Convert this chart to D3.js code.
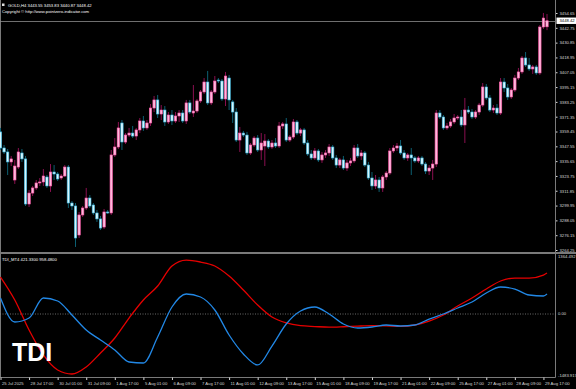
<!DOCTYPE html>
<html>
<head>
<meta charset="utf-8">
<script src="https://cdnjs.cloudflare.com/ajax/libs/d3/7.8.5/d3.min.js"></script>
<style>
  html, body { margin: 0; padding: 0; background: #000; overflow: hidden; }
  svg { display: block; }
  text { font-family: "Liberation Sans", Arial, sans-serif; }
</style>
</head>
<body>
<script>
// header texts
const symbolInfo = 'GOLD,H4  3443.55 3453.83 3440.87 3448.42';
const copyrightInfo = 'Copyright © http://www.pointzero-indicator.com';
const tdiInfo = 'TDI_MT4 421.3300 958.4800';
const bidPrice = 3448.42;

// H4 candles, [open, high, low, close]
const candles = [
  [3359.1, 3362.3, 3344.6, 3346.2], [3346.2, 3348.6, 3341.4, 3343.0], [3343.0, 3345.4, 3324.5, 3335.0], [3335.0, 3339.8, 3331.7, 3337.4],
  [3320.5, 3336.6, 3317.3, 3331.7], [3330.9, 3346.2, 3329.3, 3343.0], [3342.2, 3345.4, 3335.0, 3337.4], [3337.4, 3339.8, 3299.6, 3301.2],
  [3301.2, 3312.5, 3298.8, 3310.0], [3310.0, 3315.7, 3307.6, 3314.1], [3314.1, 3320.5, 3312.5, 3318.1], [3318.1, 3322.1, 3315.7, 3318.9],
  [3318.9, 3329.3, 3315.7, 3323.7], [3322.9, 3324.5, 3314.1, 3315.7], [3315.7, 3333.3, 3310.9, 3326.9], [3326.9, 3332.5, 3320.5, 3325.3],
  [3325.3, 3326.9, 3319.7, 3321.3], [3322.1, 3325.3, 3320.5, 3323.7], [3323.7, 3332.5, 3322.9, 3330.9], [3330.9, 3332.5, 3298.0, 3302.0],
  [3302.0, 3303.6, 3296.4, 3299.6], [3299.6, 3302.0, 3266.7, 3273.9], [3276.3, 3294.8, 3273.9, 3292.4], [3292.4, 3299.6, 3290.8, 3298.0],
  [3298.0, 3314.1, 3296.4, 3306.0], [3306.0, 3308.4, 3298.0, 3299.6], [3300.4, 3302.0, 3292.4, 3294.0], [3294.0, 3296.4, 3286.8, 3289.2],
  [3289.2, 3291.6, 3280.3, 3281.9], [3282.7, 3297.2, 3281.1, 3294.8], [3294.8, 3296.4, 3293.2, 3294.0], [3294.0, 3344.6, 3292.4, 3340.6],
  [3340.6, 3354.2, 3339.0, 3347.0], [3347.0, 3367.1, 3345.4, 3362.3], [3366.3, 3368.7, 3344.6, 3351.0], [3351.0, 3358.2, 3349.4, 3356.6],
  [3356.6, 3362.3, 3355.0, 3358.2], [3358.2, 3363.9, 3354.2, 3355.8], [3355.8, 3362.3, 3352.6, 3360.7], [3360.7, 3370.3, 3358.2, 3367.9],
  [3367.9, 3371.9, 3359.9, 3362.3], [3362.3, 3368.7, 3360.7, 3366.3], [3366.3, 3381.5, 3363.9, 3378.3], [3378.3, 3388.0, 3375.1, 3384.8],
  [3384.8, 3388.8, 3370.3, 3373.5], [3373.5, 3380.7, 3368.7, 3376.7], [3376.7, 3379.9, 3363.9, 3367.1], [3367.1, 3375.1, 3365.5, 3372.7],
  [3372.7, 3376.7, 3364.7, 3367.9], [3367.9, 3375.1, 3366.3, 3371.9], [3371.9, 3376.7, 3367.1, 3374.3], [3374.3, 3376.7, 3366.3, 3367.9],
  [3367.9, 3384.8, 3365.5, 3382.4], [3382.4, 3384.8, 3373.5, 3375.1], [3374.3, 3396.8, 3371.1, 3375.9], [3375.9, 3385.6, 3374.3, 3384.0],
  [3384.0, 3392.8, 3382.4, 3391.2], [3391.2, 3402.4, 3389.6, 3399.2], [3399.2, 3408.1, 3380.7, 3382.4], [3382.4, 3392.8, 3380.7, 3391.2],
  [3391.2, 3404.0, 3389.6, 3400.0], [3400.8, 3402.4, 3398.4, 3400.0], [3400.0, 3401.6, 3384.0, 3385.6], [3385.6, 3407.3, 3379.9, 3404.0],
  [3402.4, 3404.9, 3376.7, 3384.8], [3383.2, 3384.8, 3366.3, 3375.1], [3375.1, 3378.3, 3351.0, 3352.6], [3352.6, 3363.1, 3343.0, 3358.2],
  [3358.2, 3359.9, 3355.0, 3356.6], [3356.6, 3359.1, 3340.6, 3342.2], [3342.2, 3350.2, 3340.6, 3348.6], [3348.6, 3355.8, 3347.0, 3354.2],
  [3354.2, 3356.6, 3343.0, 3344.6], [3344.6, 3358.2, 3336.6, 3350.2], [3347.8, 3357.4, 3331.7, 3351.8], [3351.8, 3353.4, 3345.4, 3347.0],
  [3347.0, 3352.6, 3345.4, 3350.2], [3350.2, 3354.2, 3346.2, 3347.8], [3347.8, 3367.1, 3346.2, 3363.9], [3363.9, 3367.1, 3361.5, 3365.5],
  [3365.5, 3370.3, 3351.0, 3352.6], [3352.6, 3356.6, 3351.0, 3355.0], [3355.0, 3369.5, 3353.4, 3367.1], [3367.1, 3368.7, 3356.6, 3358.2],
  [3358.2, 3362.3, 3355.8, 3360.7], [3360.7, 3362.3, 3348.6, 3350.2], [3350.2, 3352.6, 3339.8, 3341.4], [3341.4, 3344.6, 3336.6, 3338.2],
  [3338.2, 3346.2, 3336.6, 3343.8], [3343.8, 3345.4, 3335.0, 3336.6], [3336.6, 3343.0, 3334.2, 3340.6], [3340.6, 3344.6, 3338.2, 3342.2],
  [3342.2, 3349.4, 3339.8, 3347.0], [3347.0, 3348.6, 3336.6, 3338.2], [3338.2, 3340.6, 3330.1, 3332.5], [3332.5, 3338.2, 3330.1, 3336.6],
  [3336.6, 3339.8, 3328.5, 3330.1], [3330.1, 3336.6, 3327.7, 3334.2], [3334.2, 3338.2, 3331.7, 3335.8], [3335.8, 3348.6, 3334.2, 3346.2],
  [3346.2, 3349.4, 3338.2, 3339.8], [3339.8, 3344.6, 3336.6, 3342.2], [3342.2, 3343.8, 3330.9, 3332.5], [3332.5, 3335.0, 3320.5, 3322.1],
  [3322.1, 3326.9, 3312.5, 3315.7], [3315.7, 3324.5, 3313.3, 3320.5], [3320.5, 3322.9, 3310.9, 3314.1], [3314.1, 3324.5, 3310.9, 3322.9],
  [3322.9, 3327.7, 3320.5, 3326.1], [3326.1, 3346.2, 3324.5, 3343.8], [3343.8, 3348.6, 3342.2, 3346.2], [3346.2, 3350.2, 3343.8, 3347.8],
  [3347.8, 3352.6, 3340.6, 3342.2], [3342.2, 3344.6, 3336.6, 3338.2], [3338.2, 3342.2, 3335.8, 3340.6], [3340.6, 3346.2, 3324.5, 3338.2],
  [3338.2, 3339.8, 3334.2, 3335.8], [3335.8, 3339.8, 3334.2, 3338.2], [3338.2, 3339.8, 3331.7, 3333.3], [3333.3, 3334.9, 3325.3, 3327.7],
  [3327.7, 3332.5, 3324.5, 3330.1], [3330.1, 3336.6, 3320.5, 3333.3], [3333.3, 3376.7, 3330.9, 3374.3], [3374.3, 3376.7, 3369.5, 3371.1],
  [3371.1, 3372.7, 3360.7, 3362.3], [3362.3, 3366.3, 3360.7, 3363.9], [3363.9, 3369.5, 3362.3, 3367.1], [3367.1, 3373.5, 3365.5, 3370.3],
  [3370.3, 3372.7, 3368.7, 3371.1], [3371.1, 3376.7, 3363.1, 3364.7], [3364.7, 3386.4, 3350.2, 3376.7], [3376.7, 3379.9, 3373.5, 3375.1],
  [3375.1, 3377.5, 3369.5, 3371.1], [3371.1, 3376.7, 3369.5, 3375.1], [3375.1, 3382.4, 3372.7, 3380.7], [3380.7, 3398.4, 3379.1, 3395.2],
  [3395.2, 3397.6, 3384.8, 3386.4], [3386.4, 3388.8, 3375.1, 3376.7], [3376.7, 3380.7, 3374.3, 3378.3], [3378.3, 3381.5, 3372.7, 3374.3],
  [3374.3, 3402.4, 3372.7, 3399.2], [3399.2, 3402.4, 3391.2, 3394.4], [3394.4, 3397.6, 3384.8, 3387.2], [3387.2, 3394.4, 3385.6, 3392.8],
  [3392.8, 3404.9, 3391.2, 3402.4], [3402.4, 3410.5, 3400.8, 3407.3], [3407.3, 3420.1, 3405.7, 3418.5], [3418.5, 3423.3, 3411.3, 3412.9],
  [3412.9, 3418.5, 3408.1, 3409.7], [3409.7, 3412.9, 3405.7, 3411.3], [3411.3, 3412.9, 3404.9, 3406.5], [3406.5, 3445.0, 3404.9, 3443.4],
  [3443.4, 3454.7, 3441.8, 3450.6], [3443.55, 3453.83, 3440.87, 3448.42]
];

// price scale labels
const priceTicks = [3264.25, 3276.15, 3288.05, 3299.95, 3311.85, 3323.75, 3335.65, 3347.55, 3359.45,
  3371.35, 3383.25, 3395.15, 3407.05, 3418.95, 3430.85, 3442.75, 3454.65];

// time labels, one every 8 bars
const timeBars = [0, 8, 16, 24, 32, 40, 48, 56, 64, 72, 80, 88, 96, 104, 112, 120, 128, 136, 144, 152];
const timeLabels = ['25 Jul 2025', '28 Jul 17:00', '30 Jul 01:00', '31 Jul 09:00', '1 Aug 17:00', '5 Aug 01:00',
  '6 Aug 09:00', '7 Aug 17:00', '11 Aug 01:00', '12 Aug 09:00', '13 Aug 17:00', '15 Aug 01:00', '18 Aug 09:00',
  '19 Aug 17:00', '21 Aug 01:00', '22 Aug 09:00', '25 Aug 17:00', '27 Aug 01:00', '28 Aug 09:00', '29 Aug 17:00'];

// TDI lines, read every 4 bars
const tdiBars = [0, 4, 8, 12, 16, 20, 24, 28, 32, 36, 40, 44, 48, 52, 56, 60, 64, 68, 72, 76,
  80, 84, 88, 92, 96, 100, 104, 108, 112, 116, 120, 124, 128, 132, 136, 140, 144, 148, 152, 153];
const tdiRed = [885, 335, -383, -981, -1340, -1436, -1268, -933, -574, -96, 335, 670, 1149, 1292, 1244, 1149,
  909, 574, 215, -72, -215, -280, -300, -315, -305, -290, -280, -285, -295, -263, -168, -24, 191,
  383, 598, 790, 861, 861, 933, 981];
const tdiBlue = [383, -191, -96, 383, 311, -24, -383, -622, -861, -1149, -1173, -550, 168, 479, 407, 96,
  -503, -957, -1220, -766, -239, 72, 168, 0, -239, -335, -311, -263, -287, -263, -120, 0, 144, 287,
  503, 646, 598, 455, 431, 479];
const tdiMax = 1364.492, tdiMin = -1483.917;

const W = 576, H = 389;
const axisX = 555.5;
const grey = '#7a7a7a', labelColor = '#d8d8d8';

const svg = d3.select('body')
  .append('svg')
  .attr('width', W)
  .attr('height', H);

svg.append('rect').attr('width', W).attr('height', H).attr('fill', '#000');

// scales
const x = d3.scaleLinear().domain([0, 153]).range([0.5, 547]);
const y = d3.scaleLinear().domain([3264.25, 3454.65]).range([250, 13]);
const yTdi = d3.scaleLinear().domain([tdiMin, tdiMax]).range([376, 257]);

// frame
svg.append('line').attr('x1', 0.5).attr('x2', 0.5).attr('y1', 0).attr('y2', 377.5).attr('stroke', grey);
svg.append('rect').attr('x', 0).attr('y', 252).attr('width', W).attr('height', 2).attr('fill', grey);

// bid line
svg.append('line')
  .attr('x1', 0).attr('x2', axisX)
  .attr('y1', Math.round(y(bidPrice)) + 0.5).attr('y2', Math.round(y(bidPrice)) + 0.5)
  .attr('stroke', '#8c8c8c').attr('stroke-width', 0.8);

// candles
const bull = (d) => d[3] >= d[0];
const candle = svg.append('g').selectAll('g')
  .data(candles)
  .enter()
  .append('g');

candle.append('line')
  .attr('x1', (d, i) => x(i)).attr('x2', (d, i) => x(i))
  .attr('y1', (d) => y(d[1])).attr('y2', (d) => y(d[2]))
  .attr('stroke', (d) => bull(d) ? '#8a0f50' : '#0c5f72')
  .attr('stroke-width', 1);

candle.append('rect')
  .attr('x', (d, i) => x(i) - 1.2)
  .attr('width', 2.4)
  .attr('y', (d) => y(Math.max(d[0], d[3])))
  .attr('height', (d) => Math.max(1, Math.abs(y(d[0]) - y(d[3]))))
  .attr('fill', (d) => bull(d) ? '#ffb8dc' : '#d6f7ff')
  .attr('stroke', (d) => bull(d) ? '#ff5aaa' : '#3cb8e0')
  .attr('stroke-width', 0.6);

// price axis
const priceAxis = svg.append('g')
  .attr('transform', `translate(${axisX},0)`)
  .call(d3.axisRight(y).tickValues(priceTicks).tickSize(2).tickPadding(2).tickFormat(d3.format('.2f')));
priceAxis.select('.domain').remove();
priceAxis.selectAll('line').attr('stroke', labelColor);
priceAxis.selectAll('text').attr('fill', labelColor).attr('font-size', 4.2);

svg.append('line').attr('x1', axisX).attr('x2', axisX).attr('y1', 0).attr('y2', 377.5).attr('stroke', grey);

// bid label
svg.append('rect')
  .attr('x', axisX + 1).attr('y', y(bidPrice) - 3.2)
  .attr('width', W - axisX - 1).attr('height', 6.4)
  .attr('fill', '#fff');
svg.append('text')
  .attr('x', axisX + 4).attr('y', y(bidPrice))
  .attr('dy', '0.35em')
  .attr('font-size', 4.2)
  .attr('fill', '#000')
  .text(bidPrice.toFixed(2));

// header
svg.append('rect').attr('x', 2).attr('y', 3.5).attr('width', 2.5).attr('height', 2.5).attr('fill', '#ddd');
svg.append('text').attr('x', 8).attr('y', 6.5).attr('font-size', 4.2).attr('fill', '#fff').text(symbolInfo);
svg.append('text').attr('x', 2).attr('y', 12.5).attr('font-size', 4.2).attr('fill', '#fff').text(copyrightInfo);

// indicator pane
svg.append('text').attr('x', 2).attr('y', 261).attr('font-size', 4.2).attr('fill', '#fff').text(tdiInfo);

svg.append('line')
  .attr('x1', 0).attr('x2', axisX)
  .attr('y1', yTdi(0)).attr('y2', yTdi(0))
  .attr('stroke', '#9a9a9a').attr('stroke-width', 0.7)
  .attr('stroke-dasharray', '1,1.5');

const tdiScaleLabels = [tdiMax, 0, tdiMin];
svg.selectAll('.tdiLabel')
  .data(tdiScaleLabels)
  .enter()
  .append('text')
  .attr('class', 'tdiLabel')
  .attr('x', axisX + 2.5)
  .attr('y', (d) => yTdi(d))
  .attr('dy', '0.35em')
  .attr('font-size', 4.2)
  .attr('fill', labelColor)
  .text((d) => d === 0 ? '0.00' : d.toFixed(3));

const tdiLine = (values) => d3.line()
  .x((d, i) => x(tdiBars[i]))
  .y((d) => yTdi(d))
  .curve(d3.curveMonotoneX)(values);

svg.append('path').attr('d', tdiLine(tdiRed)).attr('fill', 'none').attr('stroke', '#e60000').attr('stroke-width', 1.3);
svg.append('path').attr('d', tdiLine(tdiBlue)).attr('fill', 'none').attr('stroke', '#2288e6').attr('stroke-width', 1.3);

svg.append('text')
  .attr('x', 12).attr('y', 361)
  .attr('font-size', 25)
  .attr('font-weight', 'bold')
  .attr('fill', '#fff')
  .text('TDI');

// time axis
const timeAxis = svg.append('g')
  .attr('transform', 'translate(0,377.5)')
  .call(d3.axisBottom(x).tickValues(timeBars).tickSize(2.5).tickPadding(2.5).tickFormat((d, i) => timeLabels[i]));
timeAxis.select('.domain').attr('stroke', grey).attr('d', `M0,0H${axisX}`);
timeAxis.selectAll('line').attr('stroke', labelColor);
timeAxis.selectAll('text')
  .attr('fill', labelColor)
  .attr('font-size', 4.2)
  .attr('text-anchor', 'start')
  .attr('dx', 1);
</script>
</body>
</html>
